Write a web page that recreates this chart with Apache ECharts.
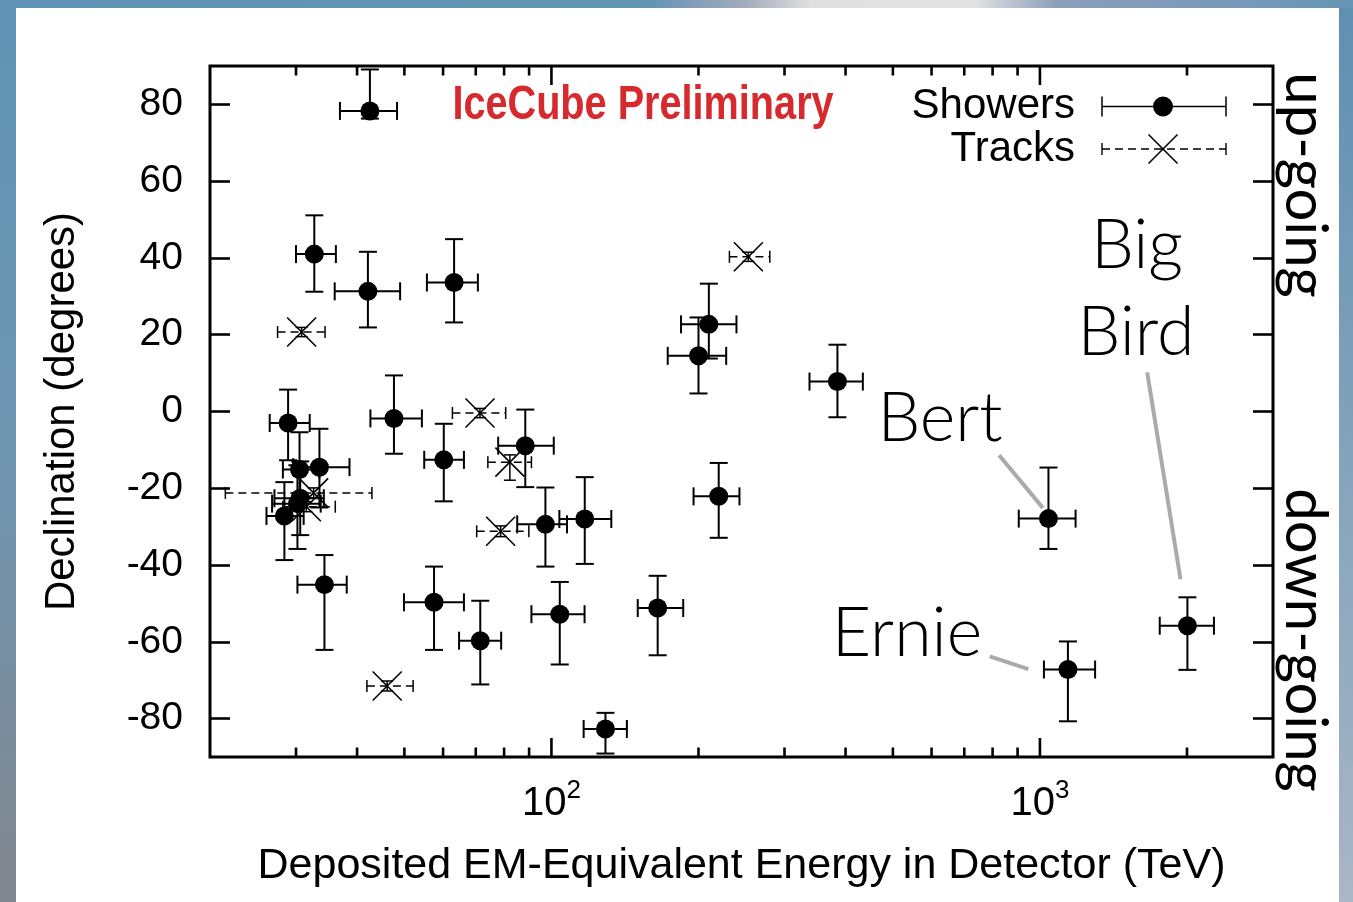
<!DOCTYPE html>
<html><head><meta charset="utf-8">
<script src="https://cdn.jsdelivr.net/npm/echarts@6/dist/echarts.min.js"></script>
<style>html,body{margin:0;padding:0;background:#fff}#c{width:1353px;height:902px}</style>
</head><body><div id="c"></div>
<script>
// ---- data ----
const showerEnergy      = [42.5, 32.7, 42.1, 63.2, 28.9, 30.5, 33.5, 30.6, 30.2, 28.4, 34.3, 57.5, 71.5, 129, 104, 60.2, 88.4, 97.2, 117, 47.6, 210, 200, 385, 220, 165, 1041, 1141, 2004];
const showerEnergyMinus = [5.6, 2.7, 6.1, 7.6, 2.4, 2.3, 3.9, 3.5, 3.4, 2.3, 4.1, 7.6, 6.8, 12.6, 13.0, 5.3, 10.6, 12.1, 13.2, 5.0, 25.8, 27.0, 47.5, 24.6, 14.8, 136, 122, 245];
const showerEnergyPlus  = [5.8, 3.5, 6.9, 7.5, 3.1, 3.0, 5.1, 3.6, 3.5, 2.7, 3.8, 8.7, 7.4, 13.7, 12.9, 6.0, 12.7, 10.4, 15.6, 6.7, 29.2, 27.9, 49.0, 22.6, 21.1, 142, 156, 267];
const showerDec         = [78.3, 41.0, 31.3, 33.6, -3.0, -15.1, -14.5, -22.6, -24.0, -27.2, -45.1, -49.7, -59.7, -82.7, -52.8, -12.6, -8.9, -29.4, -28.0, -1.8, 22.7, 14.5, 7.8, -22.1, -51.2, -27.9, -67.2, -55.8];
const showerDecMinus    = [2.0, 9.8, 9.4, 10.4, 9.7, 9.9, 10.5, 9.6, 11.8, 11.5, 17.0, 12.4, 11.4, 6.4, 13.1, 10.8, 10.8, 11.0, 11.7, 9.2, 8.9, 9.8, 9.3, 10.8, 12.3, 7.9, 13.5, 11.5];
const showerDecPlus     = [10.8, 10.1, 10.3, 11.3, 8.7, 9.7, 10.0, 9.6, 10.0, 8.8, 7.7, 9.3, 10.4, 4.2, 8.4, 9.4, 9.4, 9.6, 10.9, 11.2, 10.6, 10.0, 9.6, 8.7, 8.4, 13.3, 7.3, 7.4];

const trackEnergy      = [30.8, 32.6, 31.5, 78.7, 71.4, 82.2, 253, 46.1];
const trackEnergyMinus = [3.3, 11.1, 3.3, 8.4, 8.7, 8.1, 21.6, 4.2];
const trackEnergyPlus  = [3.6, 10.3, 4.6, 11.2, 9.2, 8.8, 26.9, 6.0];
const trackDec         = [20.7, -21.2, -24.8, -31.2, -0.4, -13.2, 40.3, -71.5];
const trackDecMinus    = [1.2, 1.3, 1.3, 1.4, 1.2, 4.7, 1.2, 1.3];
const trackDecPlus     = [1.2, 1.3, 1.3, 1.4, 1.2, 1.9, 1.2, 1.3];

// annotation pointer lines (data coordinates: energy, declination)
const bertPointer    = [[825, -11.4], [1014, -25.1]];
const erniePointer   = [[789, -63.8], [947, -67.1]];
const bigBirdPointer = [[1658, 10.2], [1940, -43.7]];

// axis ticks
const xMajorTicks = [100, 1000];
const xMinorTicks = [30, 40, 50, 60, 70, 80, 90, 200, 300, 400, 500, 600, 700, 800, 900, 2000];
const yTicks = [-80, -60, -40, -20, 0, 20, 40, 60, 80];

// ---- build ----
const F = "'Liberation Sans', Arial, Helvetica, sans-serif";
const FA = "Lato, 'Open Sans', sans-serif";

function rows(E, Em, Ep, D, Dm, Dp) {
  return E.map((e, i) => [e, D[i], e - Em[i], e + Ep[i], D[i] - Dm[i], D[i] + Dp[i]]);
}
const showerRows = rows(showerEnergy, showerEnergyMinus, showerEnergyPlus, showerDec, showerDecMinus, showerDecPlus);
const trackRows = rows(trackEnergy, trackEnergyMinus, trackEnergyPlus, trackDec, trackDecMinus, trackDecPlus);

function errRender(dashed, cap, lw, cross) {
  return function (params, api) {
    const e = api.value(0), d = api.value(1);
    const c = api.coord([e, d]);
    const xl = api.coord([api.value(2), d])[0];
    const xr = api.coord([api.value(3), d])[0];
    const yb = api.coord([e, api.value(4)])[1];
    const yt = api.coord([e, api.value(5)])[1];
    const h = cap / 2;
    const solid = {stroke: '#000', lineWidth: lw, fill: null};
    const hs = dashed ? {stroke: '#000', lineWidth: lw, lineDash: [8, 5], fill: null} : solid;
    const ch = [
      {type: 'line', shape: {x1: xl, y1: c[1], x2: xr, y2: c[1]}, style: hs},
      {type: 'line', shape: {x1: xl, y1: c[1] - h, x2: xl, y2: c[1] + h}, style: solid},
      {type: 'line', shape: {x1: xr, y1: c[1] - h, x2: xr, y2: c[1] + h}, style: solid},
      {type: 'line', shape: {x1: c[0], y1: yt, x2: c[0], y2: yb}, style: solid},
      {type: 'line', shape: {x1: c[0] - h, y1: yt, x2: c[0] + h, y2: yt}, style: solid},
      {type: 'line', shape: {x1: c[0] - h, y1: yb, x2: c[0] + h, y2: yb}, style: solid}
    ];
    if (cross) {
      const s = 14.5;
      ch.push({type: 'line', shape: {x1: c[0] - s, y1: c[1] - s, x2: c[0] + s, y2: c[1] + s}, style: {stroke: '#000', lineWidth: 1.6}});
      ch.push({type: 'line', shape: {x1: c[0] - s, y1: c[1] + s, x2: c[0] + s, y2: c[1] - s}, style: {stroke: '#000', lineWidth: 1.6}});
    }
    return {type: 'group', children: ch};
  };
}

function tickRender(len) {
  return function (params, api) {
    const cs = params.coordSys;
    const x = api.coord([api.value(0), 0])[0];
    const st = {stroke: '#000', lineWidth: 2.6};
    return {type: 'group', children: [
      {type: 'line', shape: {x1: x, y1: cs.y + cs.height, x2: x, y2: cs.y + cs.height - len}, style: st},
      {type: 'line', shape: {x1: x, y1: cs.y, x2: x, y2: cs.y + len}, style: st}
    ]};
  };
}

const blueL = {type: 'linear', x: 0, y: 0, x2: 0, y2: 1, colorStops: [{offset: 0, color: '#5e93b5'}, {offset: 0.5, color: '#6f97b4'}, {offset: 1, color: '#80868f'}]};
const blueR = {type: 'linear', x: 0, y: 0, x2: 0, y2: 1, colorStops: [{offset: 0, color: '#5f8fb1'}, {offset: 1, color: '#a9b6c5'}]};
const blueT = {type: 'linear', x: 0, y: 0, x2: 1, y2: 0, colorStops: [
  {offset: 0, color: '#5e93b5'}, {offset: 0.48, color: '#6394b4'}, {offset: 0.55, color: '#a2abbb'},
  {offset: 0.6, color: '#e0e0e1'}, {offset: 0.72, color: '#e2e2e3'}, {offset: 0.78, color: '#8e9fbb'},
  {offset: 1, color: '#6596b4'}]};

const chart = echarts.init(document.getElementById('c'), null, {renderer: 'canvas'});
chart.setOption({
  backgroundColor: '#ffffff',
  animation: false,
  grid: {left: 210, right: 80, top: 66, bottom: 145, show: true, borderColor: '#000', borderWidth: 3, backgroundColor: 'transparent'},
  xAxis: [{
    type: 'log', logBase: 10, min: 20, max: 3000,
    axisLine: {show: false}, axisTick: {show: false}, splitLine: {show: false},
    axisLabel: {
      margin: 21, color: '#000',
      formatter: function (v) {
        const p = Math.round(Math.log10(v));
        if (Math.abs(Math.log10(v) - p) > 1e-6 || (p !== 2 && p !== 3)) return '';
        return '{b|10}{s|' + p + '}';
      },
      rich: {
        b: {fontSize: 40, fontFamily: F, color: '#000', lineHeight: 52},
        s: {fontSize: 26, fontFamily: F, color: '#000', verticalAlign: 'top'}
      }
    },
    name: 'Deposited EM-Equivalent Energy in Detector (TeV)', nameLocation: 'middle', nameGap: 88,
    nameTextStyle: {fontSize: 43, fontFamily: F, color: '#000'}
  }],
  yAxis: [{
    type: 'value', min: -90, max: 90, position: 'left',
    axisLine: {show: false}, splitLine: {show: false},
    axisTick: {inside: true, length: 20, lineStyle: {color: '#000', width: 2.6}, customValues: yTicks},
    axisLabel: {customValues: yTicks, fontSize: 39, fontFamily: F, color: '#000', margin: 27},
    name: 'Declination (degrees)', nameLocation: 'middle', nameGap: 127, nameRotate: 90,
    nameTextStyle: {fontSize: 42, fontFamily: F, color: '#000'}
  }, {
    type: 'value', min: -90, max: 90, position: 'right',
    axisLine: {show: false}, splitLine: {show: false}, axisLabel: {show: false},
    axisTick: {inside: true, length: 20, lineStyle: {color: '#000', width: 2.6}, customValues: yTicks}
  }],
  series: [
    {type: 'custom', name: 'majorTicks', data: xMajorTicks.map(v => [v, 0]), renderItem: tickRender(19), silent: true, z: 1},
    {type: 'custom', name: 'minorTicks', data: xMinorTicks.map(v => [v, 0]), renderItem: tickRender(9.5), silent: true, z: 1},
    {type: 'line', data: bertPointer, symbol: 'none', lineStyle: {color: '#aaaaaa', width: 4}, silent: true, z: 1},
    {type: 'line', data: erniePointer, symbol: 'none', lineStyle: {color: '#aaaaaa', width: 4}, silent: true, z: 1},
    {type: 'line', data: bigBirdPointer, symbol: 'none', lineStyle: {color: '#aaaaaa', width: 4}, silent: true, z: 1},
    {type: 'custom', name: 'Tracks', data: trackRows, renderItem: errRender(true, 12, 1.5, true), z: 2},
    {type: 'custom', name: 'ShowerErr', data: showerRows, renderItem: errRender(false, 18, 2, false), z: 3},
    {type: 'scatter', name: 'Showers', data: showerRows.map(r => [r[0], r[1]]), symbol: 'circle', symbolSize: 19, itemStyle: {color: '#000', opacity: 1}, z: 4}
  ],
  graphic: [
    {type: 'rect', shape: {x: 0, y: 0, width: 16, height: 902}, style: {fill: blueL}, silent: true},
    {type: 'rect', shape: {x: 1339, y: 0, width: 14, height: 902}, style: {fill: blueR}, silent: true},
    {type: 'rect', shape: {x: 0, y: 0, width: 1353, height: 8}, style: {fill: blueT}, silent: true},
    {type: 'text', x: 643, y: 106, scaleX: 0.826, style: {text: 'IceCube Preliminary', font: "bold 48px " + F, fill: '#d62a2f', align: 'center', verticalAlign: 'middle'}},
    // legend
    {type: 'text', x: 1075, y: 106, style: {text: 'Showers', font: '42px ' + F, fill: '#000', align: 'right', verticalAlign: 'middle'}},
    {type: 'text', x: 1075, y: 149, style: {text: 'Tracks', font: '42px ' + F, fill: '#000', align: 'right', verticalAlign: 'middle'}},
    {type: 'line', shape: {x1: 1102, y1: 106.5, x2: 1226, y2: 106.5}, style: {stroke: '#000', lineWidth: 1.5}},
    {type: 'line', shape: {x1: 1102, y1: 96.5, x2: 1102, y2: 116.5}, style: {stroke: '#000', lineWidth: 1.5}},
    {type: 'line', shape: {x1: 1226, y1: 96.5, x2: 1226, y2: 116.5}, style: {stroke: '#000', lineWidth: 1.5}},
    {type: 'circle', shape: {cx: 1163, cy: 106.5, r: 10}, style: {fill: '#000'}},
    {type: 'line', shape: {x1: 1102, y1: 149, x2: 1226, y2: 149}, style: {stroke: '#000', lineWidth: 1.4, lineDash: [8, 5]}},
    {type: 'line', shape: {x1: 1102, y1: 143, x2: 1102, y2: 155}, style: {stroke: '#000', lineWidth: 1.4}},
    {type: 'line', shape: {x1: 1226, y1: 143, x2: 1226, y2: 155}, style: {stroke: '#000', lineWidth: 1.4}},
    {type: 'line', shape: {x1: 1148.5, y1: 134.5, x2: 1177.5, y2: 163.5}, style: {stroke: '#000', lineWidth: 1.6}},
    {type: 'line', shape: {x1: 1148.5, y1: 163.5, x2: 1177.5, y2: 134.5}, style: {stroke: '#000', lineWidth: 1.6}},
    // annotations
    {type: 'text', x: 1137, y: 246, style: {text: 'Big', font: '300 68px ' + FA, fill: '#000', align: 'center', verticalAlign: 'middle'}},
    {type: 'text', x: 1136, y: 333, style: {text: 'Bird', font: '300 68px ' + FA, fill: '#000', align: 'center', verticalAlign: 'middle'}},
    {type: 'text', x: 940, y: 419, style: {text: 'Bert', font: '300 68px ' + FA, fill: '#000', align: 'center', verticalAlign: 'middle'}},
    {type: 'text', x: 907, y: 634, style: {text: 'Ernie', font: '300 68px ' + FA, fill: '#000', align: 'center', verticalAlign: 'middle'}},
    // right-side labels
    {type: 'text', x: 1305, y: 185, rotation: -Math.PI / 2, style: {text: 'up-going', font: '58px ' + FA, fill: '#000', align: 'center', verticalAlign: 'middle'}},
    {type: 'text', x: 1305, y: 640, rotation: -Math.PI / 2, style: {text: 'down-going', font: '58px ' + FA, fill: '#000', align: 'center', verticalAlign: 'middle'}}
  ]
});
</script>
</body></html>
